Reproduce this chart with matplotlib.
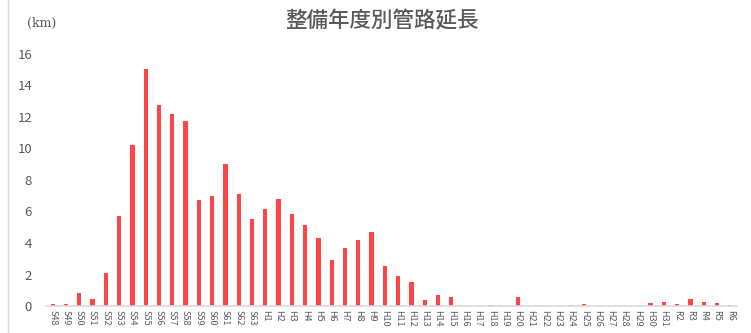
import matplotlib
matplotlib.use("Agg")
import matplotlib.pyplot as plt

plt.rcParams['font.family'] = ['Noto Sans CJK JP', 'DejaVu Sans']

# 整備年度 (S48 .. S63, H1 .. H31, R2 .. R6)
years = ["S%d" % y for y in range(48, 64)] + ["H%d" % y for y in range(1, 32)] + ["R%d" % y for y in range(2, 7)]

# 管路延長 (km)
length_km = [
    0.1, 0.1, 0.85, 0.47, 2.07, 5.7, 10.25, 15.03, 12.76, 12.2, 11.77, 6.71, 7.0, 9.0, 7.09, 5.55,  # S48-S63
    6.18, 6.78, 5.84, 5.12, 4.3, 2.95, 3.7, 4.21, 4.7, 2.54,  # H1-H10
    1.89, 1.5, 0.4, 0.7, 0.55, 0.0, 0.03, 0.05, 0.0, 0.6,  # H11-H20
    0.0, 0.0, 0.0, 0.08, 0.1, 0.0, 0.0, 0.0, 0.0, 0.2, 0.25,  # H21-H31
    0.15, 0.45, 0.25, 0.2, 0.07,  # R2-R6
]

yticks = [0, 2, 4, 6, 8, 10, 12, 14, 16]

fig = plt.figure(figsize=(7.51, 3.33), dpi=100)
ax = fig.add_axes([46 / 751, 27 / 333, 691 / 751, 252 / 333])

x = range(len(years))
ax.bar(x, length_km, width=0.32, color="#FF4545")

ax.set_xlim(-0.5, len(years) - 0.5)
ax.set_ylim(0, 16)
ax.set_yticks(yticks)
ax.set_xticks(list(x))
ax.set_xticklabels(years, rotation=270, fontsize=6.5, color="#595959")
ax.tick_params(axis="y", labelsize=9.5, colors="#595959", length=0, pad=10)
ax.tick_params(axis="x", length=0, pad=3)

for s in ["top", "right", "left"]:
    ax.spines[s].set_visible(False)
ax.spines["bottom"].set_color("#D9D9D9")
ax.spines["bottom"].set_linewidth(1.2)

fig.text(0.509, 0.935, "整備年度別管路延長", ha="center", va="center", fontsize=15.5,
         color="#595959", weight="medium")
fig.text(0.056, 0.93, "(km)", ha="center", va="center", fontsize=9, color="#595959",
         family=["DejaVu Serif"])

# left edge border of chart area
fig.add_artist(plt.Line2D([8 / 751, 8 / 751], [0, 1], color="#D9D9D9", lw=1))

fig.savefig("out.png", dpi=100)
